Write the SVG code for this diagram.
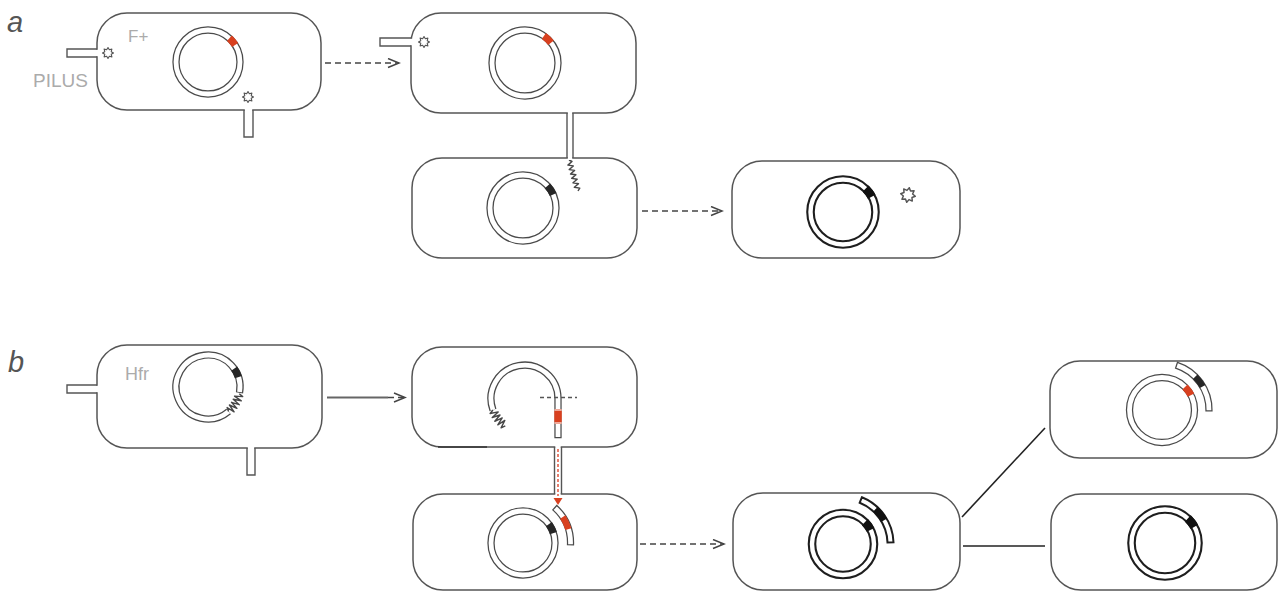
<svg xmlns="http://www.w3.org/2000/svg" xmlns:xlink="http://www.w3.org/1999/xlink" width="1282" height="593" viewBox="0 0 1282 593">
  <style>
    .cell { fill: #fff; stroke: #555; stroke-width: 1.5; }
    .pil { fill: none; stroke: #555; stroke-width: 1.4; }
    .gap { fill: #fff; stroke: none; }
    .ro { fill: none; stroke: #4a4a4a; stroke-width: 7.3; }
    .ri { fill: none; stroke: #fff; stroke-width: 4.8; }
    .roh { fill: none; stroke: #1e1e1e; stroke-width: 8.6; }
    .rih { fill: none; stroke: #fff; stroke-width: 4.4; }
    .frag { fill: #fff; stroke: #4a4a4a; stroke-width: 1.25; }
    .fragh { fill: #fff; stroke: #1e1e1e; stroke-width: 2; }
    .seg-red { fill: none; stroke: #d8401f; stroke-width: 7.3; }
    .seg-blk { fill: none; stroke: #262626; stroke-width: 7.3; }
    .coil { fill: none; stroke: #474747; stroke-width: 1.4; stroke-linejoin: round; }
    .gear { fill: #fff; stroke: #555; stroke-width: 1.1; stroke-linejoin: round; }
    .dash { fill: none; stroke: #444; stroke-width: 1.5; stroke-dasharray: 6 4; }
    .solid { fill: none; stroke: #666; stroke-width: 2; }
    .link { fill: none; stroke: #222; stroke-width: 1.6; }
    .tag { font-family: "Liberation Sans", Arial, sans-serif; fill: #ababab; }
    .panel { font-family: "Liberation Sans", Arial, sans-serif; font-style: italic; fill: #555; font-size: 29px; }
  </style>
  <defs>
    <marker id="chev" markerUnits="userSpaceOnUse" markerWidth="14" markerHeight="12" refX="12" refY="5.5" orient="auto">
      <path d="M1,1 L12,5.5 L1,10" fill="none" stroke="#444" stroke-width="1.5"/>
    </marker>
    <polygon id="gear" points="5.5,0 3.23,1.34 3.89,3.89 1.34,3.23 0,5.5 -1.34,3.23 -3.89,3.89 -3.23,1.34 -5.5,0 -3.23,-1.34 -3.89,-3.89 -1.34,-3.23 0,-5.5 1.34,-3.23 3.89,-3.89 3.23,-1.34"/>
  </defs>

  <rect width="1282" height="593" fill="#fff"/>

  <!-- panel letters -->
  <text class="panel" x="7" y="32">a</text>
  <text class="panel" x="8" y="372">b</text>

  <!-- ===== row a ===== -->
  <g id="cell-a1">
    <rect class="cell" x="97" y="13" width="224" height="97" rx="30"/>
    <rect class="gap" x="95" y="49.8" width="4" height="6.4"/>
    <path class="pil" d="M97,49 H67 V57 H97"/>
    <rect class="gap" x="244.8" y="108" width="7.4" height="4"/>
    <path class="pil" d="M244,110 V137 H253 V110"/>
    <use xlink:href="#gear" class="gear" transform="translate(108,53)"/>
    <use xlink:href="#gear" class="gear" transform="translate(248,97)"/>
    <circle class="ro" cx="208" cy="62" r="32"/>
    <circle class="ri" cx="208" cy="62" r="32"/>
    <path class="seg-red" d="M229.4,38.2 A32,32 0 0,1 235.1,45"/>
    <text class="tag" x="128" y="42" font-size="17">F+</text>
    <text class="tag" x="33" y="87" font-size="19">PILUS</text>
  </g>

  <g id="cell-a2">
    <rect class="cell" x="411" y="13" width="225" height="100" rx="30"/>
    <rect class="gap" x="409" y="38.8" width="4" height="6.4"/>
    <path class="pil" d="M411,38 H380 V46 H411"/>
    <use xlink:href="#gear" class="gear" transform="translate(424,42)"/>
    <circle class="ro" cx="525" cy="63" r="33"/>
    <circle class="ri" cx="525" cy="63" r="33"/>
    <path class="seg-red" d="M543.9,36 A33,33 0 0,1 551,42.7"/>
  </g>

  <g id="cell-a3">
    <rect class="cell" x="412" y="158" width="225" height="100" rx="30"/>
    <circle class="ro" cx="523" cy="208" r="33"/>
    <circle class="ri" cx="523" cy="208" r="33"/>
    <path class="seg-blk" d="M547.5,185.9 A33,33 0 0,1 553.2,194.6"/>
    <!-- single strand entering the recipient -->
    <polyline class="coil" points="569,160 572,161.5 567.9,165.1 573.3,165.9 569.2,169.6 574.6,170.4 570.5,174 575.9,174.8 571.7,178.4 577.2,179.2 573,182.8 578.5,183.7 574.3,187.3 579.8,188.1 578,191"/>
  </g>

  <g id="cell-a4">
    <rect class="cell" x="732" y="161" width="228" height="97" rx="30"/>
    <circle class="roh" cx="843" cy="212" r="32.5"/>
    <circle class="rih" cx="843" cy="212" r="32.5"/>
    <path class="seg-blk" style="stroke:#111;stroke-width:8.6" d="M865.6,188.6 A32.5,32.5 0 0,1 871.7,196.7"/>
    <use xlink:href="#gear" class="gear" transform="translate(908,195) scale(1.35) rotate(10)"/>
  </g>

  <!-- ===== row b ===== -->
  <g id="cell-b1">
    <rect class="cell" x="97" y="345" width="225" height="103" rx="30"/>
    <rect class="gap" x="95" y="385.8" width="4" height="6.4"/>
    <path class="pil" d="M97,385 H67 V393 H97"/>
    <rect class="gap" x="247.8" y="446" width="6.4" height="4"/>
    <path class="pil" d="M247,448 V475 H255 V448"/>
    <path class="ro" d="M228.6,411.5 A32,32 0 1,1 239.5,392.8"/>
    <path class="ri" d="M228.6,411.5 A32,32 0 1,1 239.6,392"/>
    <path class="seg-blk" d="M234.2,368.6 A32,32 0 0,1 238.4,377.1"/>
    <polyline class="coil" points="239.3,393.7 242.7,396.6 234.5,396.1 241.3,400.8 233.2,399.3 239.3,404.7 231.5,402.3 236.9,408.4 229.4,405 234.1,411.8 227.1,407.5 228.6,411.5"/>
    <text class="tag" x="125" y="380" font-size="18">Hfr</text>
  </g>

  <g id="cell-b2">
    <rect class="cell" x="412" y="347" width="225" height="100" rx="30"/>
    <path d="M438,447 H487" stroke="#333" stroke-width="1.3"/>
    <path class="ro" d="M558,438.3 V398.5 A33.5,33.5 0 1,0 493,410"/>
    <path class="ri" d="M558,437 V398.5 A33.5,33.5 0 1,0 493,410"/>
    <rect x="554.4" y="409" width="7.3" height="15" fill="#f0a898"/>
    <rect x="554.4" y="411" width="7.3" height="11" fill="#d8401f"/>
    <polyline class="coil" points="493,410 490.1,413.5 498.2,411.9 492.2,417.5 500,415 494.8,421.3 502.2,417.9 497.8,424.8 504.8,420.4 501.1,427.9 505.3,425.9"/>
    <path d="M540,397.5 H577" fill="none" stroke="#555" stroke-width="1.3" stroke-dasharray="4 3"/>
  </g>

  <g id="cell-b3">
    <rect class="cell" x="413" y="494" width="224" height="96" rx="30"/>
    <circle class="ro" cx="523" cy="543" r="32"/>
    <circle class="ri" cx="523" cy="543" r="32"/>
    <path class="seg-blk" d="M548.9,524.2 A32,32 0 0,1 553.4,533.1"/>
    <path class="frag" d="M556.8,505.5 A50.5,50.5 0 0,1 573.5,544.8 L567.5,544.6 A44.5,44.5 0 0,0 552.8,509.9 Z"/>
    <path class="seg-red" style="stroke-width:6.4" d="M562.8,517.1 A47.5,47.5 0 0,1 568.4,529.1"/>
  </g>

  <g id="cell-b4">
    <rect class="cell" x="733" y="493" width="227" height="97" rx="30"/>
    <circle class="roh" cx="843" cy="544" r="31"/>
    <circle class="rih" cx="843" cy="544" r="31"/>
    <path class="seg-blk" style="stroke:#111;stroke-width:8.6" d="M864.9,522.1 A31,31 0 0,1 870.6,529.9"/>
    <path class="fragh" d="M861.9,497.2 A50.5,50.5 0 0,1 893.5,542.2 L887.5,542.4 A44.5,44.5 0 0,0 859.7,502.7 Z"/>
    <path class="seg-blk" style="stroke:#111;stroke-width:7" d="M875.4,509.3 A47.5,47.5 0 0,1 884.1,520.25"/>
  </g>

  <g id="cell-b5">
    <rect class="cell" x="1050" y="361" width="227" height="97" rx="30"/>
    <circle class="ro" cx="1162" cy="410" r="32.5"/>
    <circle class="ri" cx="1162" cy="410" r="32.5"/>
    <path class="seg-red" d="M1185,387 A32.5,32.5 0 0,1 1191,395.2"/>
    <path class="frag" d="M1177.5,362.4 A50,50 0 0,1 1212,410.9 L1206,410.8 A44,44 0 0,0 1175.6,368.2 Z"/>
    <path class="seg-blk" style="stroke-width:6.4" d="M1195.2,376.8 A47,47 0 0,1 1202.7,386.5"/>
  </g>

  <g id="cell-b6">
    <rect class="cell" x="1051" y="494" width="226" height="96" rx="30"/>
    <circle class="roh" cx="1165" cy="543" r="33.5"/>
    <circle class="rih" cx="1165" cy="543" r="33.5"/>
    <path class="seg-blk" style="stroke:#111;stroke-width:8.6" d="M1187.8,518.5 A33.5,33.5 0 0,1 1194.3,526.8"/>
  </g>

  <!-- ===== connectors ===== -->
  <g id="connectors">
    <!-- conjugation bridge, row a -->
    <rect class="gap" x="567.8" y="111" width="4.4" height="49"/>
    <path class="pil" d="M567,113 V158 M573,113 V158"/>
    <!-- conjugation bridge, row b, with DNA transfer -->
    <rect class="gap" x="555.3" y="445" width="5.4" height="51"/>
    <path class="pil" d="M554.5,447 V494 M561.5,447 V494"/>
    <path d="M558,449 V496" fill="none" stroke="#e0604a" stroke-width="1.6" stroke-dasharray="3 2"/>
    <polygon points="553.5,498 562.5,498 558,505" fill="#d8401f"/>

    <!-- transitions -->
    <path class="dash" d="M325,63 H399" marker-end="url(#chev)"/>
    <path class="dash" d="M642,211 H722" marker-end="url(#chev)"/>
    <path class="solid" d="M327,397.5 H388"/>
    <path class="dash" d="M388,397.5 H405" marker-end="url(#chev)"/>
    <path class="dash" d="M640,544 H724" marker-end="url(#chev)"/>

    <!-- daughter cells -->
    <path class="link" d="M962,517 L1045,428"/>
    <path class="link" d="M963,546 H1045"/>
  </g>
</svg>
